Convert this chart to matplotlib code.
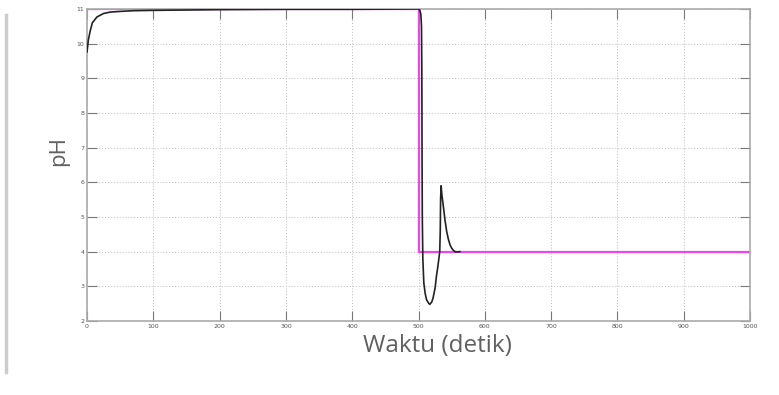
import numpy as np
import matplotlib
matplotlib.use("Agg")
import matplotlib.pyplot as plt
from matplotlib.lines import Line2D

# measured pH response (black)
t_ph = [0, 2, 4.5, 8, 15, 25, 35, 50, 70, 100, 150, 200, 300, 400, 495,
        500, 502, 503.5, 504.5, 505, 505.3, 505.7, 506.5, 508, 510, 512, 515,
        517, 520, 522, 525, 527, 529, 530.5, 532, 532.8, 533.3, 534,
        535.5, 537.5, 540, 542.5, 545, 547.5, 550, 552.5, 556, 562.5]
ph = [9.76, 10.1, 10.34, 10.6, 10.77, 10.87, 10.91, 10.93, 10.95, 10.96, 10.97, 10.98, 10.99, 10.99, 11.0,
      11.0, 10.96, 10.85, 10.5, 9.2, 7.0, 5.0, 3.8, 3.1, 2.8, 2.62, 2.52,
      2.48, 2.55, 2.67, 2.95, 3.29, 3.55, 3.77, 4.0, 4.6, 5.5, 5.9,
      5.6, 5.3, 4.9, 4.58, 4.36, 4.2, 4.1, 4.04, 3.99, 4.0]

# setpoint (magenta)
t_sp = [0, 500, 500, 1000]
sp = [11, 11, 4, 4]

xticks = [0, 100, 200, 300, 400, 500, 600, 700, 800, 900, 1000]
yticks = [2, 3, 4, 5, 6, 7, 8, 9, 10, 11]

W, H = 779, 395
fig = plt.figure(figsize=(W / 100, H / 100), dpi=100)
ax = fig.add_axes([0.1117, 0.1873, 0.8511, 0.79])

ax.plot(t_sp, sp, color="#ee44ee", lw=1.6, zorder=2)
ax.plot(t_ph, ph, color="#222222", lw=1.2, zorder=3)

ax.set_xlim(0, 1000)
ax.set_ylim(2, 11)
ax.set_xticks(xticks)
ax.set_yticks(yticks)
ax.grid(True, color="#bbbbbb", linestyle=(0, (1, 2)), lw=0.7)
ax.tick_params(direction="in", length=7, width=0.8, color="#777777",
               labelsize=4.5, labelcolor="#555555", top=True, right=True, pad=2)
for s in ax.spines.values():
    s.set_color("#aaaaaa")
    s.set_linewidth(1.2)

# axis titles placed in figure pixels
fig.text(437 / W, 1 - 346 / H, "Waktu (detik)", fontsize=17.5, color="#606060",
         family="Open Sans", ha="center", va="center")
fig.text(59 / W, 1 - 151 / H, "pH", fontsize=16, color="#606060",
         family="Open Sans", ha="center", va="center", rotation=90)

# thin grey bar along the left edge
fig.add_artist(Line2D([6 / W, 6 / W], [1 - 15 / H, 1 - 372 / H],
                      color="#cccccc", lw=2.5, transform=fig.transFigure))

fig.savefig("out.png", dpi=100)
